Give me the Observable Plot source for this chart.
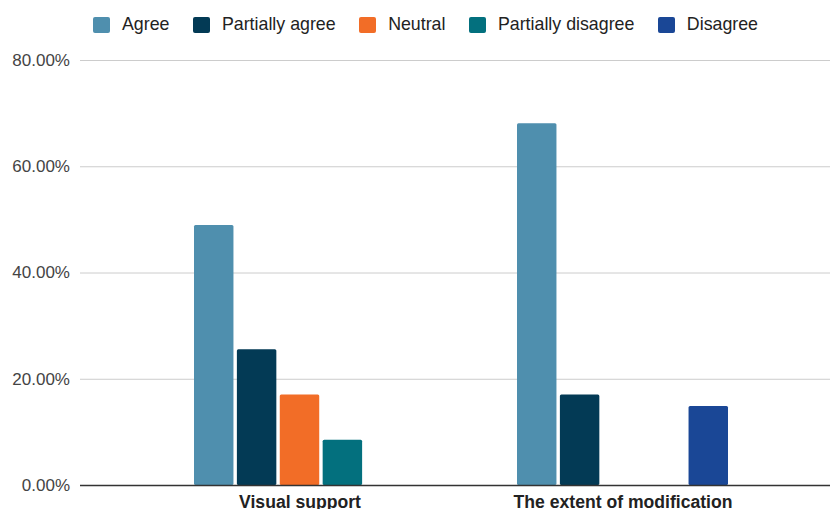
<!DOCTYPE html>
<html>
<head>
<meta charset="utf-8">
<script src="https://cdn.jsdelivr.net/npm/d3@7"></script>
<script src="https://cdn.jsdelivr.net/npm/@observablehq/plot@0.6"></script>
<style>
  html, body { margin: 0; padding: 0; background: #fff; }
  body { width: 831px; height: 509px; overflow: hidden; font-family: "Liberation Sans", Arial, sans-serif; }
  #legend { height: 46px; display: flex; align-items: center; padding-left: 93px; box-sizing: border-box; padding-top: 3px; }
  .item { display: flex; align-items: center; margin-right: 23.5px; font-size: 17.8px; color: #222; }
  .swatch { width: 17px; height: 16px; border-radius: 2px; margin-right: 12px; }
</style>
</head>
<body>
<div id="legend"></div>
<div id="chart"></div>
<script>
// Survey responses, share of respondents per answer
const groups = ["Visual support", "The extent of modification"];
const series = ["Agree", "Partially agree", "Neutral", "Partially disagree", "Disagree"];
const colors = ["#4f8fae", "#033a55", "#f26d27", "#03707e", "#1a4796"];
const visualSupport = [48.94, 25.53, 17.02, 8.51, null];
const extentOfModification = [68.09, 17.02, null, null, 14.89];
const yTicks = [0, 20, 40, 60, 80];

const values = [visualSupport, extentOfModification];
const rows = groups.flatMap((g, gi) =>
  series.map((s, si) => ({group: g, series: s, value: values[gi][si]}))
).filter(d => d.value != null);

// horizontal rules, split per group so the two halves meet without overlapping
const gridLeft = yTicks.map(v => ({group: groups[0], v}));
const gridRight = yTicks.map(v => ({group: groups[1], v}));

// legend
const legend = document.getElementById("legend");
series.forEach((s, i) => {
  const item = document.createElement("div");
  item.className = "item";
  const sw = document.createElement("div");
  sw.className = "swatch";
  sw.style.background = colors[i];
  const label = document.createElement("span");
  label.textContent = s;
  item.append(sw, label);
  legend.append(item);
});

const fmt = d => d.toFixed(2) + "%";

const chart = Plot.plot({
  width: 831,
  height: 463,
  marginTop: 14,
  marginBottom: 24,
  marginLeft: 80,
  marginRight: 1,
  style: {fontFamily: "'Liberation Sans', Arial, sans-serif", background: "#fff"},
  fx: {domain: groups, range: [138, 784], padding: 0, round: false},
  x: {domain: series, paddingInner: 0.08, paddingOuter: 0, insetLeft: 56, insetRight: 56, round: false, axis: null},
  y: {domain: [0, 80]},
  color: {domain: series, range: colors},
  marks: [
    Plot.ruleY(gridLeft.filter(d => d.v > 0), {fx: "group", y: "v", stroke: "#cccccc", insetLeft: -58}),
    Plot.ruleY(gridRight.filter(d => d.v > 0), {fx: "group", y: "v", stroke: "#cccccc", insetRight: -46}),
    Plot.barY(rows, {fx: "group", x: "series", y: "value", fill: "series", rx: 1.5}),
    Plot.ruleY(gridLeft.filter(d => d.v === 0), {fx: "group", y: "v", stroke: "#333333", strokeWidth: 1.3, insetLeft: -58}),
    Plot.ruleY(gridRight.filter(d => d.v === 0), {fx: "group", y: "v", stroke: "#333333", strokeWidth: 1.3, insetRight: -46}),
    Plot.axisY({ticks: yTicks, tickFormat: fmt, tickSize: 0, tickPadding: 68.5, fontSize: 17, fill: "#444", label: null}),
    Plot.axisFx({anchor: "bottom", tickSize: 0, tickPadding: 10, fontSize: 17.6, fontWeight: "bold", fill: "#222", label: null})
  ]
});
document.getElementById("chart").append(chart);
</script>
</body>
</html>
